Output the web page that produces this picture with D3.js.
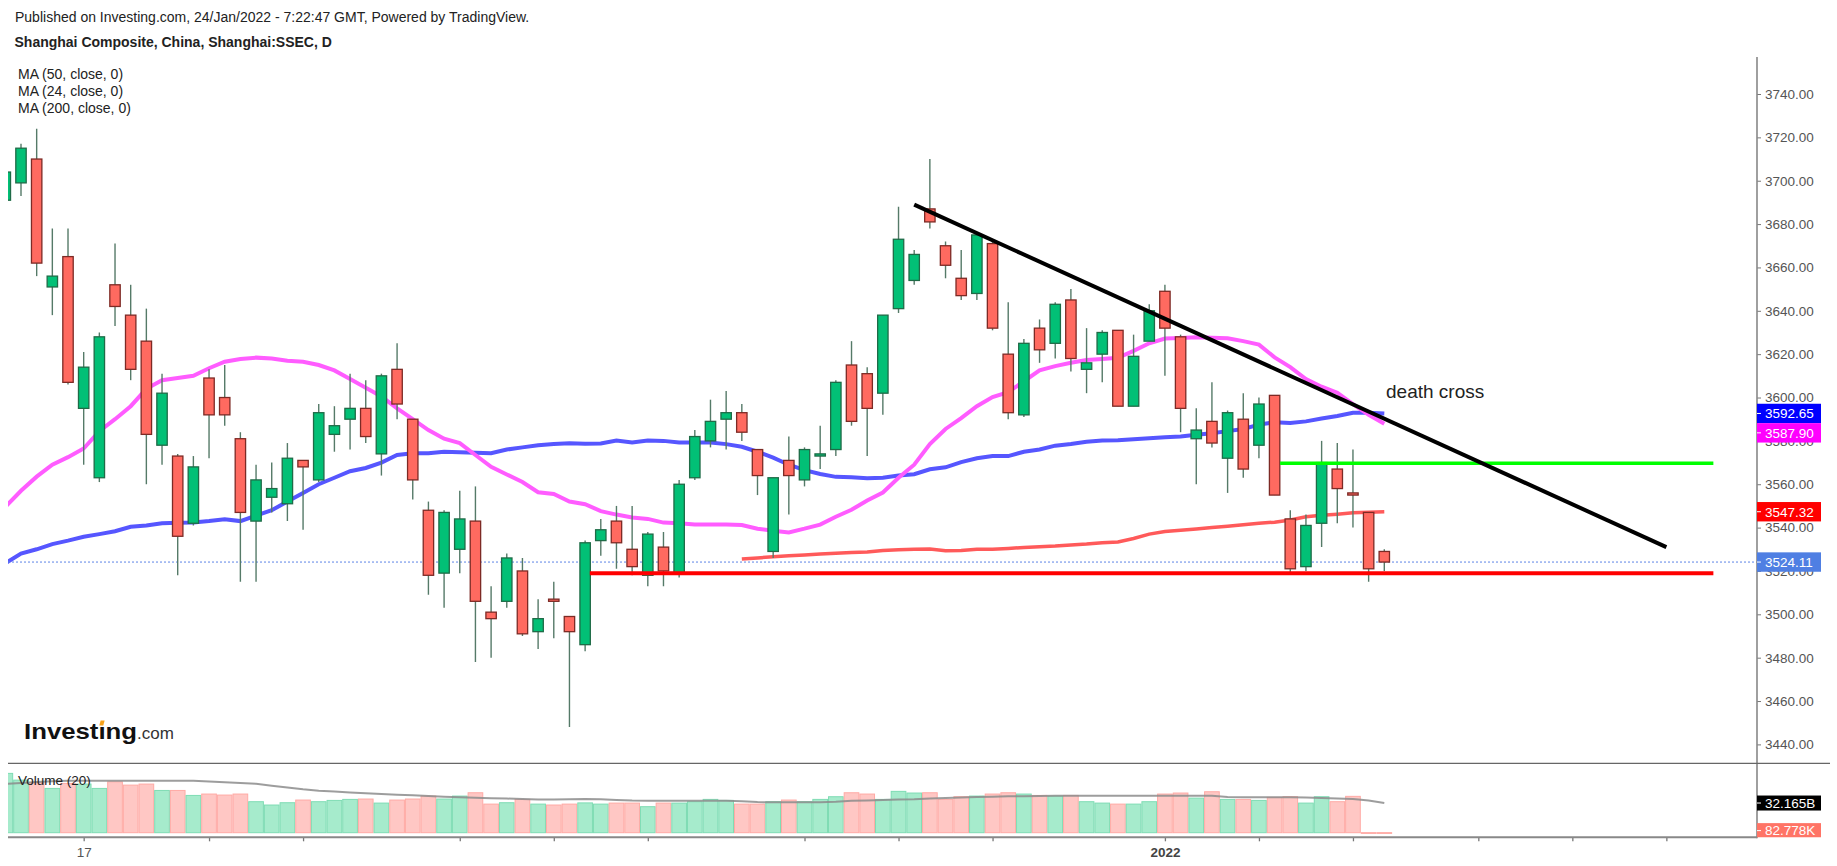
<!DOCTYPE html>
<html>
<head>
<meta charset="utf-8">
<script src="https://cdn.jsdelivr.net/npm/d3@7"></script>
<style>
  body { margin: 0; background: #fff; }
  svg { display: block; font-family: "Liberation Sans", Arial, sans-serif; }
</style>
</head>
<body>
<svg id="chart" width="1837" height="866"></svg>
<script>
//## Data

const dates = [
  "2021-09-10","2021-09-13","2021-09-14","2021-09-15","2021-09-16","2021-09-17",
  "2021-09-22","2021-09-23","2021-09-24",
  "2021-09-27","2021-09-28","2021-09-29","2021-09-30",
  "2021-10-08",
  "2021-10-11","2021-10-12","2021-10-13","2021-10-14","2021-10-15",
  "2021-10-18","2021-10-19","2021-10-20","2021-10-21","2021-10-22",
  "2021-10-25","2021-10-26","2021-10-27","2021-10-28","2021-10-29",
  "2021-11-01","2021-11-02","2021-11-03","2021-11-04","2021-11-05",
  "2021-11-08","2021-11-09","2021-11-10","2021-11-11","2021-11-12",
  "2021-11-15","2021-11-16","2021-11-17","2021-11-18","2021-11-19",
  "2021-11-22","2021-11-23","2021-11-24","2021-11-25","2021-11-26",
  "2021-11-29","2021-11-30","2021-12-01","2021-12-02","2021-12-03",
  "2021-12-06","2021-12-07","2021-12-08","2021-12-09","2021-12-10",
  "2021-12-13","2021-12-14","2021-12-15","2021-12-16","2021-12-17",
  "2021-12-20","2021-12-21","2021-12-22","2021-12-23","2021-12-24",
  "2021-12-27","2021-12-28","2021-12-29","2021-12-30","2021-12-31",
  "2022-01-04","2022-01-05","2022-01-06","2022-01-07",
  "2022-01-10","2022-01-11","2022-01-12","2022-01-13","2022-01-14",
  "2022-01-17","2022-01-18","2022-01-19","2022-01-20","2022-01-21",
  "2022-01-24"
];

const open = [
  3691,3699,3710,3651,3665,3595,3563,3652,3638,3626,
  3578,3573,3542,3609,3600,3581,3543,3554,3551,3571,
  3562,3583,3590,3595,3574,3613,3590,3548,3519,3530,
  3543,3501,3506,3520,3492,3507,3499,3486,3534,3543,
  3530,3518,3531,3519,3563,3580,3590,3593,3576,3529,
  3571,3562,3573,3576,3615,3611,3602,3641,3654,3687,
  3670,3655,3648,3671,3620,3592,3632,3625,3645,3613,
  3620,3631,3596,3626,3649,3628,3581,3589,3572,3590,
  3578,3601,3544,3522,3542,3567,3556,3547,3529
];
const high = [
  3705,3717,3724,3678,3678,3621,3630,3671,3652,3641,
  3611,3574,3573,3613,3615,3584,3569,3570,3579,3571,
  3597,3596,3611,3608,3611,3625,3590,3552,3548,3557,
  3559,3513,3528,3526,3507,3515,3499,3534,3544,3550,
  3550,3538,3538,3562,3585,3599,3603,3597,3576,3563,
  3582,3577,3587,3608,3626,3614,3638,3688,3668,3710,
  3672,3668,3676,3673,3644,3627,3636,3644,3650,3632,
  3631,3631,3629,3643,3652,3629,3595,3607,3594,3602,
  3600,3601,3548,3546,3580,3579,3576,3547,3530
];
const low = [
  3688,3693,3656,3638,3606,3569,3561,3633,3608,3560,
  3569,3518,3541,3572,3587,3515,3515,3547,3543,3539,
  3561,3575,3576,3579,3564,3590,3553,3509,3503,3519,
  3478,3480,3503,3490,3484,3489,3448,3483,3527,3521,
  3518,3513,3513,3517,3562,3577,3576,3580,3555,3526,
  3546,3559,3567,3573,3587,3573,3592,3639,3652,3678,
  3655,3645,3645,3631,3590,3591,3616,3618,3612,3602,
  3607,3596,3596,3626,3610,3584,3560,3577,3556,3563,
  3572,3555,3519,3520,3531,3542,3540,3515,3520
];
const close = [
  3704,3715,3662,3656,3607,3614,3628,3642,3613,3583,
  3602,3536,3568,3592,3592,3547,3562,3558,3572,3568,
  3593,3587,3595,3582,3610,3597,3562,3518,3547,3544,
  3506,3498,3526,3491,3498,3506,3492,3533,3539,3533,
  3522,3537,3520,3560,3582,3589,3593,3584,3564,3563,
  3564,3576,3574,3607,3589,3595,3638,3673,3666,3681,
  3661,3647,3675,3632,3593,3625,3622,3643,3618,3616,
  3630,3596,3619,3640,3632,3595,3585,3579,3593,3567,
  3597,3555,3521,3541,3570,3558,3555,3521,3524.11
];

// volume, billions
const volume = [
  64.3,57.0,54.2,48.0,53.4,52.7,48.0,55.2,51.6,52.7,
  45.8,45.8,40.4,41.9,40.8,41.9,33.6,30.0,32.5,35.4,
  33.6,35.0,36.1,36.5,32.1,35.4,36.5,39.7,36.5,39.7,
  43.3,31.0,32.5,36.1,31.0,30.0,31.0,32.3,31.0,32.1,
  32.1,28.2,32.1,32.1,33.6,36.1,35.0,31.0,31.0,33.6,
  35.4,33.6,36.1,39.0,43.3,41.9,36.1,44.8,43.0,43.3,
  36.1,39.0,39.7,41.9,43.3,41.9,40.4,39.7,40.4,33.6,
  32.1,31.0,31.0,33.6,41.9,43.0,37.5,44.4,36.1,36.1,
  35.0,38.3,39.0,32.1,39.0,33.6,39.4,0.08,0.082778
];
const volumeMa = [
  52.8,54,55,55.8,56.2,56.4,56.4,56.4,56.4,56.4,
  56.4,56.4,56.2,55.5,54.6,53.8,53,51,49,47,
  45.5,44.6,43.7,42.8,41.9,41.2,40.5,39.8,39,38.3,
  37.8,37.4,37,36.5,36.1,36.1,36.2,36.5,36.3,35.5,
  34.8,34.7,34.7,34.7,34.7,34.7,34.7,34,33.2,32.9,
  32.9,32.9,32.9,33.5,34.6,35,35.4,35.9,36.2,37,
  37.6,38.1,38.8,39.1,39.4,39.6,39.8,40,40.1,40.1,
  40.1,40.1,40.1,40.1,40.1,40.1,40.1,40.1,38.8,38.3,
  38.3,38.3,38.3,38.1,37.6,37.1,36.6,35,32.165
];

const ma50 = [
  3523.5,3528,3530,3532.4,3534,3535.8,3537,3538.3,3540.4,3541,
  3542,3542.2,3542.4,3543,3543.8,3543,3545.5,3548,3552,3556,
  3560,3563,3566,3567.5,3570,3573.5,3574.3,3574.3,3575,3574.8,
  3574.5,3574.3,3576,3577,3578,3578.6,3578.9,3578.7,3578.8,3580.2,
  3579.3,3580.2,3580,3579.3,3579.3,3579.3,3578.5,3577.3,3575,3572.3,
  3569,3566.5,3564.7,3563.4,3563.2,3562.8,3563,3564,3564.6,3566.9,
  3567.8,3570.2,3572,3573,3573,3575,3576,3577.8,3578.6,3579.6,
  3580.2,3580.3,3580.7,3581.2,3581.7,3582,3582.8,3583.5,3584.5,3585.5,
  3587.5,3588.6,3588.2,3589,3590.3,3591.5,3593,3593,3592.65
];
const ma24 = [
  3549.5,3557,3563.5,3569,3572.5,3576.5,3584.5,3590,3596,3604,
  3608,3609,3610,3613.5,3616.5,3617.8,3618.4,3618,3617,3616.5,
  3615,3612.5,3608.5,3604.5,3600.5,3595,3590,3585,3581,3579,
  3573.5,3568,3564.5,3561,3556.3,3555.5,3552,3550.8,3547.6,3546,
  3544.7,3544,3542.3,3542,3541.4,3541.4,3541.4,3541.2,3539.5,3538.5,
  3537.8,3539.5,3541.4,3545,3548.2,3552.5,3556.2,3563,3569,3578.5,
  3585.5,3590.5,3596,3600.2,3602.5,3607.5,3612.5,3614.5,3616,3617.3,
  3617.8,3618.3,3621.5,3625,3627.2,3627.5,3627.8,3627.6,3627.3,3626,
  3624.4,3618.5,3614,3608.5,3605,3602.2,3597,3592,3587.9
];
// the 200 day line only starts at bar 47
const ma200Start = 47;
const ma200 = [
  3525.5,3526,3526.6,3527,3527.4,3527.8,3528.2,3528.5,3528.8,3529.4,
  3529.8,3530,3530.1,3529.3,3529.4,3530,3530,3530.4,3530.8,3531.2,
  3531.5,3532,3532.4,3533,3533.4,3535,3537,3538.2,3538.8,3539.4,
  3540,3540.6,3541.3,3542,3542.5,3543.5,3545,3545.7,3546.2,3546.8,
  3547.1,3547.32
];

// drawings, as [bar index, price]
const trendLine = [[58, 3689], [106, 3531]];
const greenLevel = [[81.35, 3569.7], [109, 3569.7]];
const redLevel = [[37.3, 3518.9], [109, 3518.9]];

// axis ticks
const priceTicks = [3440,3460,3480,3500,3520,3540,3560,3580,3600,3620,3640,3660,3680,3700,3720,3740];
const timeTickIdx = [5, 13, 19, 29, 35, 41, 51, 57, 63, 74, 80, 86, 94, 100, 106];
const timeTickText = ["17", "", "", "", "", "", "", "", "", "2022", "", "", "", "", ""];
const volumeTicks = [40];

const maLegend = ["MA (50, close, 0)", "MA (24, close, 0)", "MA (200, close, 0)"];


//## Layout

const W = 1837, H = 866;
const left = 8, axisX = 1757;
const paneTop = 57, paneSep = 763.3, paneBottom = 837.3;

const up = { fill: "#02c076", stroke: "#1f6b47", vol: "#a6ebcc", volStroke: "#7fdcb4" };
const down = { fill: "#ff6a60", stroke: "#7d2a25", vol: "#ffc7c4", volStroke: "#ffaaa5" };

const x = d3.scaleLinear().domain([0, 88]).range([5.33, 1384.3]);
const y = d3.scaleLinear().domain([3440, 3740]).range([744.4, 94]);
const yv = d3.scaleLinear().domain([0, 40]).range([832.7, 795.8]);
const step = x(1) - x(0);

const svg = d3.select("#chart");
svg.append("rect").attr("width", W).attr("height", H).attr("fill", "#fff");

const defs = svg.append("defs");
defs.append("clipPath").attr("id", "clipPrice")
  .append("rect").attr("x", left).attr("y", paneTop)
  .attr("width", axisX - left).attr("height", paneSep - paneTop);
defs.append("clipPath").attr("id", "clipVol")
  .append("rect").attr("x", left).attr("y", paneSep + 1)
  .attr("width", axisX - left).attr("height", paneBottom - paneSep - 1);
defs.append("clipPath").attr("id", "clipVolAxis")
  .append("rect").attr("x", axisX).attr("y", paneSep + 1)
  .attr("width", W - axisX).attr("height", paneBottom - paneSep - 1);

const bars = d3.range(dates.length).map((i) => ({
  i,
  o: open[i], h: high[i], l: low[i], c: close[i],
  v: volume[i]
}));
const color = (d) => (d.c >= d.o ? up : down);


//## Price pane

const price = svg.append("g").attr("clip-path", "url(#clipPrice)");

const line = d3.line().x((d) => x(d[0])).y((d) => y(d[1]));

price.append("path")
  .attr("d", line(ma50.map((v, i) => [i, v])))
  .attr("fill", "none").attr("stroke", "#5656ff").attr("stroke-width", 4);
price.append("path")
  .attr("d", line(ma24.map((v, i) => [i, v])))
  .attr("fill", "none").attr("stroke", "#ff5cff").attr("stroke-width", 4);
price.append("path")
  .attr("d", line(ma200.map((v, i) => [i + ma200Start, v])))
  .attr("fill", "none").attr("stroke", "#ff5a5a").attr("stroke-width", 3.5);

// last price
price.append("line")
  .attr("x1", left).attr("x2", axisX)
  .attr("y1", y(close[close.length - 1])).attr("y2", y(close[close.length - 1]))
  .attr("stroke", "#5b84e6").attr("stroke-width", 1).attr("stroke-dasharray", "2,2");

const candle = price.selectAll("g.candle")
  .data(bars)
  .join("g")
  .attr("class", "candle");

candle.append("line")
  .attr("x1", (d) => x(d.i)).attr("x2", (d) => x(d.i))
  .attr("y1", (d) => y(d.h)).attr("y2", (d) => y(d.l))
  .attr("stroke", "#557a68").attr("stroke-width", 1.4);

candle.append("rect")
  .attr("x", (d) => x(d.i) - 5.2)
  .attr("width", 10.4)
  .attr("y", (d) => y(Math.max(d.o, d.c)))
  .attr("height", (d) => Math.max(1.5, Math.abs(y(d.o) - y(d.c))))
  .attr("fill", (d) => color(d).fill)
  .attr("stroke", (d) => color(d).stroke)
  .attr("stroke-width", 1.3);

// hand drawn lines
price.append("path").attr("d", line(redLevel))
  .attr("stroke", "#ff0000").attr("stroke-width", 4);
price.append("path").attr("d", line(greenLevel))
  .attr("stroke", "#00ff00").attr("stroke-width", 3.5);
price.append("path").attr("d", line(trendLine))
  .attr("stroke", "#000").attr("stroke-width", 4);

price.append("text")
  .attr("x", 1386).attr("y", 397.5)
  .attr("font-size", 19).attr("fill", "#222")
  .text("death cross");


//## Volume pane

const vol = svg.append("g").attr("clip-path", "url(#clipVol)");

vol.selectAll("rect")
  .data(bars)
  .join("rect")
  .attr("x", (d) => x(d.i) - step / 2 + 0.5)
  .attr("width", step - 1)
  .attr("y", (d) => yv(d.v))
  .attr("height", (d) => Math.max(0.8, yv(0) - yv(d.v)))
  .attr("fill", (d) => color(d).vol)
  .attr("stroke", (d) => color(d).volStroke)
  .attr("stroke-width", 1);

vol.append("path")
  .attr("d", d3.line().x((d, i) => x(i)).y((d) => yv(d))(volumeMa))
  .attr("fill", "none").attr("stroke", "#8c8c8c").attr("stroke-opacity", 0.85)
  .attr("stroke-width", 2);

svg.append("text")
  .attr("x", 18).attr("y", 785)
  .attr("font-size", 13.5).attr("fill", "#222")
  .text("Volume (20)");


//## Axes

const priceAxis = svg.append("g")
  .attr("transform", `translate(${axisX},0)`)
  .call(d3.axisRight(y).tickValues(priceTicks).tickFormat(d3.format(".2f")).tickSize(4).tickPadding(4));
priceAxis.select(".domain").remove();
priceAxis.selectAll(".tick line").attr("stroke", "#777");
priceAxis.selectAll(".tick text")
  .attr("fill", "#555").attr("font-size", 13.5)
  .attr("font-family", "Liberation Sans, Arial, sans-serif");

const volAxis = svg.append("g")
  .attr("transform", `translate(${axisX},0)`)
  .attr("clip-path", "url(#clipVolAxis)")
  .call(d3.axisRight(yv).tickValues(volumeTicks).tickFormat((d) => d + "B").tickSize(4).tickPadding(4));
volAxis.select(".domain").remove();
volAxis.selectAll(".tick line").attr("stroke", "#777");
volAxis.selectAll(".tick text")
  .attr("fill", "#555").attr("font-size", 13.5)
  .attr("font-family", "Liberation Sans, Arial, sans-serif");

const timeAxis = svg.append("g")
  .attr("transform", `translate(0,${paneBottom})`)
  .call(d3.axisBottom(x).tickValues(timeTickIdx).tickFormat((d, i) => timeTickText[i]).tickSize(4).tickPadding(6));
timeAxis.select(".domain").remove();
timeAxis.selectAll(".tick line").attr("stroke", "#777").attr("stroke-width", 1.3);
timeAxis.selectAll(".tick text")
  .attr("font-size", 13.5)
  .attr("font-family", "Liberation Sans, Arial, sans-serif")
  .attr("fill", (d) => (d === 74 ? "#444" : "#555"))
  .attr("font-weight", (d) => (d === 74 ? "bold" : "normal"));

// frame lines
svg.append("line")
  .attr("x1", axisX).attr("x2", axisX).attr("y1", paneTop).attr("y2", paneBottom + 1)
  .attr("stroke", "#888").attr("stroke-width", 1.6);
svg.append("line")
  .attr("x1", left).attr("x2", axisX).attr("y1", paneBottom).attr("y2", paneBottom)
  .attr("stroke", "#888").attr("stroke-width", 2);
svg.append("line")
  .attr("x1", left).attr("x2", 1830).attr("y1", paneSep).attr("y2", paneSep)
  .attr("stroke", "#666").attr("stroke-width", 1.3);


//## Value tags on the right axis

function tags(list, h, clip) {
  const g = svg.append("g");
  if (clip) g.attr("clip-path", clip);
  let lastBottom = -Infinity;
  list.forEach((t) => {
    let cy = t.y;
    if (cy - h / 2 < lastBottom) cy = lastBottom + h / 2;
    lastBottom = cy + h / 2;
    g.append("rect")
      .attr("x", axisX).attr("y", cy - h / 2)
      .attr("width", 64).attr("height", h)
      .attr("fill", t.color);
    g.append("line")
      .attr("x1", axisX).attr("x2", axisX + 4).attr("y1", cy).attr("y2", cy)
      .attr("stroke", "#fff").attr("stroke-width", 1);
    g.append("text")
      .attr("x", axisX + 8).attr("y", cy).attr("dy", "0.36em")
      .attr("font-size", 13.5).attr("fill", "#fff")
      .text(t.label);
  });
}

tags([
  { y: y(ma50[ma50.length - 1]), color: "#0000ff", label: d3.format(".2f")(ma50[ma50.length - 1]) },
  { y: y(ma24[ma24.length - 1]), color: "#ff00ff", label: d3.format(".2f")(ma24[ma24.length - 1]) },
  { y: y(ma200[ma200.length - 1]), color: "#ff0000", label: d3.format(".2f")(ma200[ma200.length - 1]) },
  { y: y(close[close.length - 1]), color: "#4f7fe3", label: d3.format(".2f")(close[close.length - 1]) }
], 19.4);

tags([
  { y: yv(volumeMa[volumeMa.length - 1]), color: "#000", label: d3.format(".3f")(volumeMa[volumeMa.length - 1]) + "B" },
  { y: yv(volume[volume.length - 1]) - 2, color: "#ff7466", label: d3.format(".3f")(volume[volume.length - 1] * 1000) + "K" }
], 15, "url(#clipVolAxis)");


//## Header and legend

svg.append("text")
  .attr("x", 15).attr("y", 22)
  .attr("font-size", 14).attr("fill", "#222")
  .text("Published on Investing.com, 24/Jan/2022 - 7:22:47 GMT, Powered by TradingView.");
svg.append("text")
  .attr("x", 14.5).attr("y", 46.5)
  .attr("font-size", 14).attr("font-weight", "bold").attr("fill", "#222")
  .text("Shanghai Composite, China, Shanghai:SSEC, D");

svg.selectAll("text.legend")
  .data(maLegend)
  .join("text")
  .attr("class", "legend")
  .attr("x", 18)
  .attr("y", (d, i) => 79 + i * 17.2)
  .attr("font-size", 14).attr("fill", "#222")
  .text((d) => d);

// logo, the dot of the second i is orange
const logo = svg.append("text")
  .attr("x", 24).attr("y", 739)
  .attr("font-size", 22).attr("font-weight", "bold").attr("fill", "#111")
  .attr("textLength", 113).attr("lengthAdjust", "spacingAndGlyphs")
  .text("Investıng");
const ext = logo.node().getExtentOfChar(6);
svg.append("rect")
  .attr("x", ext.x + ext.width / 2 - 2).attr("y", 720.5)
  .attr("width", 4).attr("height", 5)
  .attr("fill", "#f7a21b")
  .attr("transform", `skewX(-15) translate(${(720.5 + 2.5) * Math.tan(15 * Math.PI / 180)},0)`);
svg.append("text")
  .attr("x", 137).attr("y", 739)
  .attr("font-size", 17).attr("fill", "#333")
  .text(".com");
</script>
</body>
</html>
